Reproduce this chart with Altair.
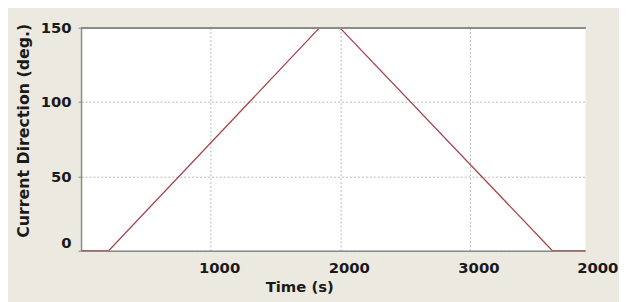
import altair as alt
import pandas as pd

# Data
time_s = [0, 213, 1840, 1995, 3635, 3890]
direction_deg = [0, 0, 150, 150, 0, 0]

x_tick_values = [1000, 2000, 3000]
x_tick_labels = ["1000", "2000", "3000"]
x_last_value = [4000]
x_last_label = ["2000"]
y_tick_values = [0, 50, 100, 150]

line_df = pd.DataFrame({"t": time_s, "d": direction_deg})
xlab_df = pd.DataFrame({"t": x_tick_values, "label": x_tick_labels})
xlast_df = pd.DataFrame({"t": x_last_value, "label": x_last_label})

W, H = 511, 226
FONT = "DejaVu Sans"
BG = "#ECE9E0"

x_scale = alt.Scale(domain=[0, 3890], nice=False, zero=False)
y_scale = alt.Scale(domain=[0, 150], nice=False)

line = alt.Chart(line_df).mark_line(color="#A8444E", strokeWidth=1.3, clip=True).encode(
    x=alt.X("t:Q", scale=x_scale,
            axis=alt.Axis(values=x_tick_values, labels=False, ticks=False,
                          grid=True, gridColor="#b8b8b8", gridDash=[2, 2], gridWidth=1,
                          domainColor="#8a8a8a", domainWidth=1.5,
                          title="Time (s)", titleFont=FONT, titleFontSize=15,
                          titleFontWeight="bold", titleColor="#1a1a1a",
                          titleX=221, titleY=36, titleBaseline="middle",
                          titleAlign="center")),
    y=alt.Y("d:Q", scale=y_scale,
            axis=alt.Axis(values=y_tick_values, grid=True, gridColor="#b8b8b8",
                          gridDash=[2, 2], gridWidth=1,
                          domainColor="#8a8a8a", domainWidth=1.5,
                          ticks=True, tickSize=3, tickColor="#8a8a8a",
                          labelFont=FONT, labelFontSize=15, labelFontWeight="bold",
                          labelColor="#1a1a1a", labelPadding=7,
                          labelBaseline={"expr": "datum.value == 0 ? 'bottom' : 'middle'"},
                          title="Current Direction (deg.)", titleFont=FONT,
                          titleFontSize=16, titleFontWeight="bold",
                          titleColor="#1a1a1a", titlePadding=9,
                          titleY=104, titleAnchor="middle")),
)

top_border = alt.Chart(line_df).mark_rule(color="#8a8a8a", strokeWidth=1.5).encode(
    y=alt.datum(150, scale=y_scale),
    x=alt.value(0), x2=alt.value(W),
)

label_style = dict(font=FONT, fontSize=15, fontWeight="bold", color="#1a1a1a",
                   baseline="middle", align="center", clip=False)

xlabels = alt.Chart(xlab_df).mark_text(dx=9, **label_style).encode(
    x=alt.X("t:Q", scale=x_scale),
    y=alt.value(H + 18),
    text="label:N",
)

xlast = alt.Chart(xlast_df).mark_text(dx=-2, **label_style).encode(
    x=alt.X("t:Q", scale=x_scale),
    y=alt.value(H + 18),
    text="label:N",
)

chart = alt.layer(line, top_border, xlabels, xlast).properties(
    width=W, height=H,
    autosize=alt.AutoSizeParams(type="none"),
    padding={"left": 74, "top": 18, "right": 34, "bottom": 50},
    background=BG,
).configure_view(stroke=None, fill="white")

chart.save("out.html", embed_options={"renderer": "svg", "actions": False})
